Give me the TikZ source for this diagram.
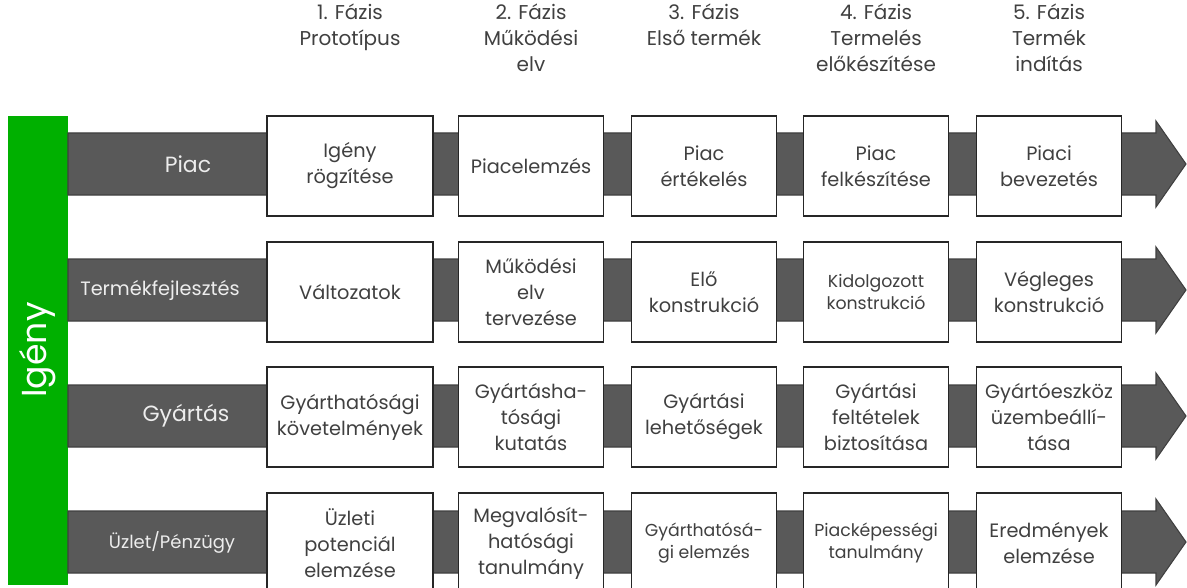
\documentclass[tikz,border=0pt]{standalone}
\usepackage{fontspec}
\setmainfont{Poppins}
\usepackage{tikz}
\definecolor{bandgray}{HTML}{595959}
\definecolor{bandedge}{HTML}{3F3F3F}
\definecolor{igenygreen}{HTML}{00B000}
\definecolor{txtgray}{HTML}{404040}

\begin{document}
\begin{tikzpicture}[x=0.75pt,y=-0.75pt]
\tikzstyle{stage}=[draw=black!85,fill=white,line width=1.1pt,minimum width=108.75pt,minimum height=75pt,align=center,inner sep=1pt,text=txtgray,font=\fontsize{14.5}{19.5}\selectfont]
\tikzstyle{wide}=[minimum width=124.5pt]
\tikzstyle{small}=[font=\fontsize{13}{16.5}\selectfont]
\tikzstyle{phase}=[anchor=north,align=center,inner sep=0pt,text=txtgray,font=\fontsize{15}{19.5}\selectfont]
\tikzstyle{lane}=[text=white!93!black,font=\fontsize{16.5}{19}\selectfont]
\tikzstyle{band}=[fill=bandgray,draw=bandedge,line width=0.8pt]

\useasboundingbox (0,0) rectangle (1187,588);

% green bar
\fill[igenygreen] (8,116) rectangle (68,585);
\node[rotate=90,text=white,font=\fontsize{26}{30}\selectfont] (igeny) at (38,350) {Igény};

% lanes
\filldraw[band] (68,133) -- (1156,133) -- (1156,121) -- (1186,164) -- (1156,207) -- (1156,195) -- (68,195) -- cycle;
\filldraw[band] (68,259) -- (1156,259) -- (1156,247) -- (1186,290) -- (1156,333) -- (1156,321) -- (68,321) -- cycle;
\filldraw[band] (68,385) -- (1156,385) -- (1156,373) -- (1186,416) -- (1156,459) -- (1156,447) -- (68,447) -- cycle;
\filldraw[band] (68,511) -- (1156,511) -- (1156,499) -- (1186,542) -- (1156,585) -- (1156,573) -- (68,573) -- cycle;

\node[lane] (lpiac) at (188,164) {Piac};
\node[lane,font=\fontsize{14.5}{17}\selectfont] (lterm) at (160,290) {Termékfejlesztés};
\node[lane,font=\fontsize{13.5}{16}\selectfont] (luzlet) at (172,542) {Üzlet/Pénzügy};
\node[lane] (lgyart) at (186,416) {Gyártás};

% phases
\node[phase] (fazis1) at (350,4) {1. Fázis\\Prototípus};
\node[phase] (fazis2) at (531,4) {2. Fázis\\Működési\\elv};
\node[phase] (fazis3) at (704,4) {3. Fázis\\Első termék};
\node[phase] (fazis4) at (876,4) {4. Fázis\\Termelés\\előkészítése};
\node[phase] (fazis5) at (1049,4) {5. Fázis\\Termék\\indítás};

% Piac
\node[stage,wide] (piac1) at (350,166) {Igény\\rögzítése};
\node[stage] (piac2) at (531,166) {Piacelemzés};
\node[stage] (piac3) at (704,166) {Piac\\értékelés};
\node[stage] (piac4) at (876,166) {Piac\\felkészítése};
\node[stage] (piac5) at (1049,166) {Piaci\\bevezetés};

% Termekfejlesztes
\node[stage,wide] (term1) at (350,292) {Változatok};
\node[stage] (term2) at (531,292) {Működési\\elv\\tervezése};
\node[stage] (term3) at (704,292) {Elő\\konstrukció};
\node[stage,small] (term4) at (876,292) {Kidolgozott\\konstrukció};
\node[stage] (term5) at (1049,292) {Végleges\\konstrukció};

% Gyartas
\node[stage,wide] (gyart1) at (350,417) {Gyárthatósági\\követelmények};
\node[stage] (gyart2) at (531,417) {Gyártásha-\\tósági\\kutatás};
\node[stage] (gyart3) at (704,417) {Gyártási\\lehetőségek};
\node[stage] (gyart4) at (876,417) {Gyártási\\feltételek\\biztosítása};
\node[stage] (gyart5) at (1049,417) {Gyártóeszköz\\üzembeállí-\\tása};

% Uzlet
\node[stage,wide] (uzlet1) at (350,543) {Üzleti\\potenciál\\elemzése};
\node[stage] (uzlet2) at (531,543) {Megvalósít-\\hatósági\\tanulmány};
\node[stage,small] (uzlet3) at (704,543) {Gyárthatósá-\\gi elemzés};
\node[stage,small] (uzlet4) at (876,543) {Piacképességi\\tanulmány};
\node[stage] (uzlet5) at (1049,543) {Eredmények\\elemzése};
\end{tikzpicture}
\end{document}
